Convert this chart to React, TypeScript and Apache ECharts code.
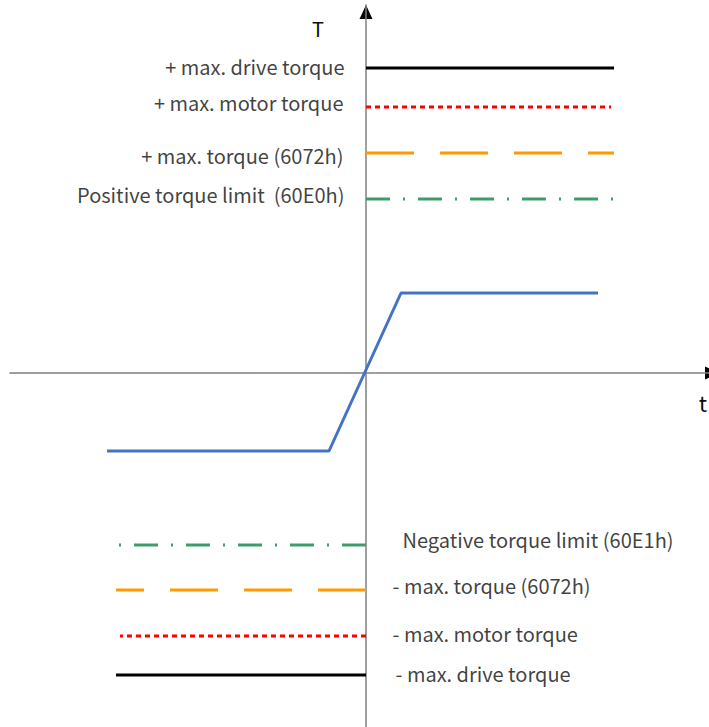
import React, { useEffect, useRef } from "react";
import * as echarts from "echarts";

// Schematic units: t and T measured from the origin
const X_RANGE = [-356, 343];
const Y_RANGE = [-354, 368];

const responseCurve: [number, number][] = [
  [-259, -78],
  [-37, -78],
  [35, 80],
  [232, 80],
];

const posLimitNames = [
  "+ max. drive torque",
  "+ max. motor torque",
  "+ max. torque (6072h)",
  "Positive torque limit  (60E0h)",
];
const posLimitValues = [305, 266, 220, 174];
const posLimitEnds = [248, 245, 248, 248];

const negLimitNames = [
  "- max. drive torque",
  "- max. motor torque",
  "- max. torque (6072h)",
  "Negative torque limit (60E1h)",
];
const negLimitValues = [-302, -263, -217, -172];
const negLimitEnds = [-250, -246, -250, -250];

const limitColors = ["#000000", "#ff0000", "#ff9a00", "#3c9c6c"];
const limitDashes: any[] = ["solid", [5, 4], [48, 26], [24, 13, 2, 13]];

// label offsets (vertical nudges, horizontal gaps)
const posLabelDy = [-2, -5, 2, -5];
const posLabelDx = [21, 22, 22, 21];
const negLabelDy = [-2, -3, -5, -6];
const negLabelDx = [29, 26, 26, 36];

const FONT = "'Noto Sans CJK SC', 'Noto Sans', sans-serif";
const TEXT_COLOR = "#0d0d0d";

export default function App() {
  const ref = useRef<HTMLDivElement>(null);
  useEffect(() => {
    if (!ref.current) return;
    const chart = echarts.init(ref.current, undefined, { renderer: "svg" });
    const series: any[] = [];
    posLimitNames.forEach((n, i) => {
      series.push({
        type: "line",
        name: n,
        data: [
          [0, posLimitValues[i]],
          [posLimitEnds[i], posLimitValues[i]],
        ],
        symbol: "none",
        lineStyle: { color: limitColors[i], width: 3, type: limitDashes[i], cap: "butt" },
      });
      series.push({
        type: "scatter",
        data: [[0, posLimitValues[i]]],
        symbolSize: 1,
        itemStyle: { color: "rgba(0,0,0,0)" },
        label: {
          show: true,
          position: "left",
          distance: posLabelDx[i],
          offset: [0, posLabelDy[i]],
          formatter: () => n,
          color: TEXT_COLOR,
          fontSize: 20,
          fontFamily: FONT,
        },
        silent: true,
      });
    });
    negLimitNames.forEach((n, i) => {
      series.push({
        type: "line",
        name: n,
        data: [
          [0, negLimitValues[i]],
          [negLimitEnds[i], negLimitValues[i]],
        ],
        symbol: "none",
        lineStyle: { color: limitColors[i], width: 3, type: limitDashes[i], cap: "butt" },
      });
      series.push({
        type: "scatter",
        data: [[0, negLimitValues[i]]],
        symbolSize: 1,
        itemStyle: { color: "rgba(0,0,0,0)" },
        label: {
          show: true,
          position: "right",
          distance: negLabelDx[i],
          offset: [0, negLabelDy[i]],
          formatter: () => n,
          color: TEXT_COLOR,
          fontSize: 20,
          fontFamily: FONT,
        },
        silent: true,
      });
    });
    series.push({
      type: "line",
      name: "T(t)",
      data: responseCurve,
      symbol: "none",
      lineStyle: { color: "#4472c4", width: 3 },
    });

    chart.setOption({
      animation: false,
      backgroundColor: "#ffffff",
      grid: { left: 10, right: 0, top: 5, bottom: 0, containLabel: false },
      xAxis: {
        type: "value",
        min: X_RANGE[0],
        max: X_RANGE[1],
        axisLine: { onZero: true, lineStyle: { color: "#7f7f7f", width: 1.5 } },
        axisTick: { show: false },
        axisLabel: { show: false },
        splitLine: { show: false },
      },
      yAxis: {
        type: "value",
        min: Y_RANGE[0],
        max: Y_RANGE[1],
        axisLine: { onZero: true, lineStyle: { color: "#7f7f7f", width: 1.5 } },
        axisTick: { show: false },
        axisLabel: { show: false },
        splitLine: { show: false },
      },
      series,
    });

    const top = chart.convertToPixel({ gridIndex: 0 } as any, [0, Y_RANGE[1]]) as number[];
    const right = chart.convertToPixel({ gridIndex: 0 } as any, [X_RANGE[1], 0]) as number[];
    chart.setOption({
      graphic: [
        {
          type: "polygon",
          shape: {
            points: [
              [top[0], top[1]],
              [top[0] - 6.5, top[1] + 14],
              [top[0] + 6.5, top[1] + 14],
            ],
          },
          style: { fill: "#000" },
        },
        {
          type: "polygon",
          shape: {
            points: [
              [right[0] - 4, right[1] - 6.5],
              [right[0] + 10, right[1]],
              [right[0] - 4, right[1] + 6.5],
            ],
          },
          style: { fill: "#000" },
        },
        {
          type: "text",
          x: top[0] - 48,
          y: top[1] + 23,
          style: {
            text: "T",
            fill: TEXT_COLOR,
            font: `20px ${FONT}`,
            align: "center",
            verticalAlign: "middle",
          },
        },
        {
          type: "text",
          x: right[0] - 6,
          y: right[1] + 29,
          style: {
            text: "t",
            fill: TEXT_COLOR,
            font: `22px ${FONT}`,
            align: "center",
            verticalAlign: "middle",
          },
        },
      ],
    });

    return () => chart.dispose();
  }, []);
  return (
    <div
      ref={ref}
      style={{ position: "fixed", left: 0, top: 0, width: 709, height: 727, background: "#fff" }}
    />
  );
}
